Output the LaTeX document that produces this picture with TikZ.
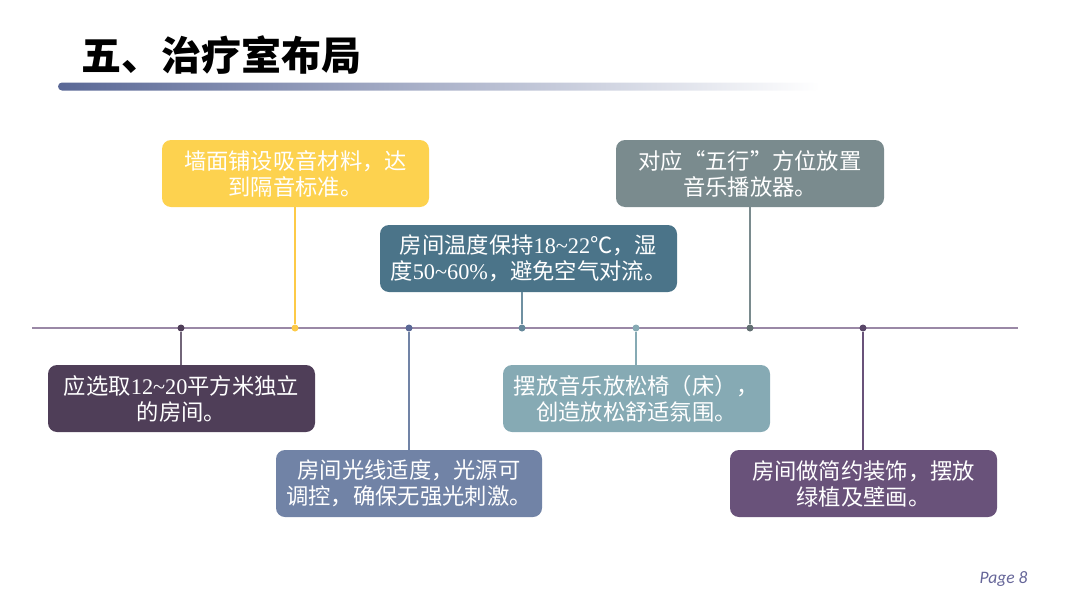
\documentclass[tikz,border=0pt]{standalone}
\usepackage{fontspec}
\setmainfont{Noto Sans CJK SC}
\newfontfamily\latfont{Liberation Serif}
\newfontfamily\pagefont{Carlito}
\usepackage{tikz}
\usetikzlibrary{positioning}
\usetikzlibrary{calc}
\definecolor{barblue}{HTML}{5A6896}
\definecolor{linepurple}{HTML}{9A88A6}
\definecolor{cyellow}{HTML}{FDD24F}
\definecolor{cdteal}{HTML}{4B7489}
\definecolor{cgray}{HTML}{7A8B8E}
\definecolor{cdpurple}{HTML}{4F3E58}
\definecolor{cslate}{HTML}{7183A6}
\definecolor{clteal}{HTML}{86AAB4}
\definecolor{cpurple}{HTML}{69527A}
\newcommand\lat[1]{{\latfont #1}}
\tikzset{
    infobox/.style={rounded corners=9pt, text=white, align=center,
        minimum height=67pt, inner sep=0pt, font=\fontsize{22.3}{26}\selectfont},
    dot/.style={circle, fill=#1, inner sep=0pt, minimum size=7pt},
    stem/.style={draw=#1, line width=1.3pt},
}

\begin{document}
\begin{tikzpicture}[x=1pt, y=-1pt]
\useasboundingbox (0,0) rectangle (1080,608);
% title and bar
\node[anchor=west, font=\fontsize{40}{44}\selectfont\bfseries] (title) at (78,55) {五、治疗室布局};
\shade[left color=barblue, right color=white, rounded corners=4pt] (58,82.5) rectangle (820,90.5);
% timeline
\coordinate (lineL) at (32,328);
\coordinate (lineR) at (1018,328);
\draw[linepurple, line width=2pt] (lineL) -- (lineR);
\node[dot=cdpurple] (d1) at (181,328) {};
\node[dot=cyellow!90!orange] (d2) at (295,328) {};
\node[dot=barblue] (d3) at (409,328) {};
\node[dot=cdteal!85] (d4) at (522,328) {};
\node[dot=clteal] (d5) at (636,328) {};
\node[dot=cgray!80!black] (d6) at (750,328) {};
\node[dot=cpurple!85!black] (d7) at (863,328) {};
% boxes above
\node[infobox, fill=cyellow, minimum width=267pt] (b2) at (295.5,173.5) {墙面铺设吸音材料，达\\到隔音标准。};
\node[infobox, fill=cdteal, minimum width=297pt] (b4) at (528.5,258.5) {房间温度保持\lat{18\textasciitilde22}℃，湿\\度\lat{50\textasciitilde60\%}，避免空气对流。};
\node[infobox, fill=cgray, minimum width=268pt] (b6) at (750,173.5) {对应“五行”方位放置\\音乐播放器。};
% boxes below
\node[infobox, fill=cdpurple, minimum width=267pt] (b1) at (181.5,398.5) {应选取\lat{12\textasciitilde20}平方米独立\\的房间。};
\node[infobox, fill=cslate, minimum width=266pt] (b3) at (409,483.5) {房间光线适度，光源可\\调控，确保无强光刺激。};
\node[infobox, fill=clteal, minimum width=267pt] (b5) at (636.5,398.5) {摆放音乐放松椅（床），\\创造放松舒适氛围。};
\node[infobox, fill=cpurple, minimum width=267pt] (b7) at (863.5,483.5) {房间做简约装饰，摆放\\绿植及壁画。};
% stems
\draw[stem=cyellow!90!orange] (b2.south -| d2) -- (d2);
\draw[stem=cdteal!80] (b4.south -| d4) -- (d4);
\draw[stem=cgray] (b6.south -| d6) -- (d6);
\draw[stem=cdpurple!80] (d1) -- (b1.north -| d1);
\draw[stem=cslate] (d3) -- (b3.north -| d3);
\draw[stem=clteal] (d5) -- (b5.north -| d5);
\draw[stem=cpurple] (d7) -- (b7.north -| d7);
% page number
\node[anchor=east, text=gray!80!blue, font=\pagefont\itshape\fontsize{17.5}{19}\selectfont] (page) at (1031,579) {Page 8};
\end{tikzpicture}
\end{document}
